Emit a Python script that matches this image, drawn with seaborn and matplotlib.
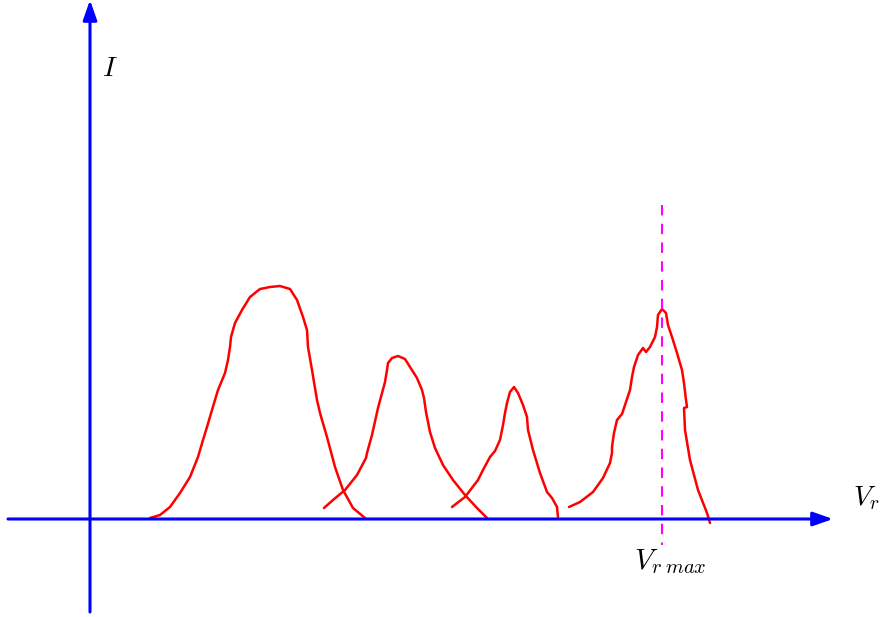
import matplotlib
matplotlib.use("Agg")
import matplotlib.pyplot as plt
import pandas as pd
import seaborn as sns

sns.set_theme(style="white")
plt.rcParams['font.family'] = ['DejaVu Serif']
plt.rcParams['mathtext.fontset'] = 'cm'

# traced curve points, in picture pixels (x right, y down)
peak1_x = [150, 160, 170, 180, 190, 198, 203, 207, 212, 218, 225, 228, 230, 231, 235, 242, 250,
           260, 270, 280, 290, 297, 303, 307, 308, 312, 317, 320, 327, 335, 343, 353, 365]
peak1_y = [518, 515, 507, 493, 477, 457, 440, 427, 410, 390, 373, 360, 347, 337, 323, 310, 297,
           289, 287, 286, 289, 300, 317, 330, 347, 370, 400, 413, 437, 467, 490, 508, 518]

peak2_x = [324, 333, 345, 357, 366, 367, 372, 378, 385, 387, 388, 392, 398, 405, 410, 417, 422,
           424, 426, 430, 435, 443, 453, 465, 477, 487]
peak2_y = [508, 500, 490, 475, 458, 453, 435, 408, 382, 370, 363, 358, 356, 359, 367, 378, 390,
           398, 412, 432, 448, 465, 480, 495, 508, 518]

peak3_x = [452, 465, 478, 483, 490, 495, 500, 503, 505, 507, 510, 514, 518, 523, 527, 528, 533,
           540, 547, 552, 557, 558]
peak3_y = [507, 497, 480, 470, 457, 451, 440, 425, 413, 403, 392, 387, 393, 405, 417, 430, 450,
           473, 492, 498, 507, 517]

peak4_x = [569, 580, 593, 603, 610, 612, 612, 614, 617, 622, 625, 630, 632, 634, 638, 643, 646,
           650, 655, 657, 658, 662, 666, 668, 672, 677, 682, 684, 686, 687, 684, 685, 690, 698,
           707, 710]
peak4_y = [507, 502, 492, 478, 463, 453, 447, 433, 420, 414, 405, 390, 377, 367, 355, 348, 352,
           347, 337, 327, 315, 309, 313, 325, 337, 353, 370, 383, 400, 407, 408, 430, 460, 490,
           513, 523]

peaks = [(peak1_x, peak1_y), (peak2_x, peak2_y), (peak3_x, peak3_y), (peak4_x, peak4_y)]

baseline_y = 519
axis_x = 90
vr_max_x = 662

fig = plt.figure(figsize=(8.81, 6.17), dpi=100)
ax = fig.add_axes([0, 0, 1, 1])

# axes with arrowheads
ax.annotate('', xy=(833, baseline_y), xytext=(8, baseline_y),
            arrowprops=dict(arrowstyle='-|>,head_length=1.0,head_width=0.35',
                            color='blue', lw=2.2, shrinkA=0, shrinkB=0))
ax.annotate('', xy=(axis_x, 0), xytext=(axis_x, 612),
            arrowprops=dict(arrowstyle='-|>,head_length=1.0,head_width=0.35',
                            color='blue', lw=2.2, shrinkA=0, shrinkB=0))

for px, py in peaks:
    df = pd.DataFrame({'x': px, 'y': py})
    sns.lineplot(data=df, x='x', y='y', sort=False, estimator=None,
                 color='red', lw=1.8, ax=ax, solid_joinstyle='round',
                 solid_capstyle='round')

ax.plot([vr_max_x, vr_max_x], [205, 545], color='magenta', lw=1.5,
        linestyle=(0, (5, 4)))

ax.set_xlim(0, 881)
ax.set_ylim(617, 0)
ax.axis('off')

ax.text(110, 68, r'$I$', fontsize=20, ha='center', va='center', color='black')
ax.text(866, 498, r'$V_r$', fontsize=20, ha='center', va='center', color='black')
ax.text(670, 562, r'$V_{r\;max}$', fontsize=21, ha='center', va='center', color='black')

fig.savefig('out.png', dpi=100)
